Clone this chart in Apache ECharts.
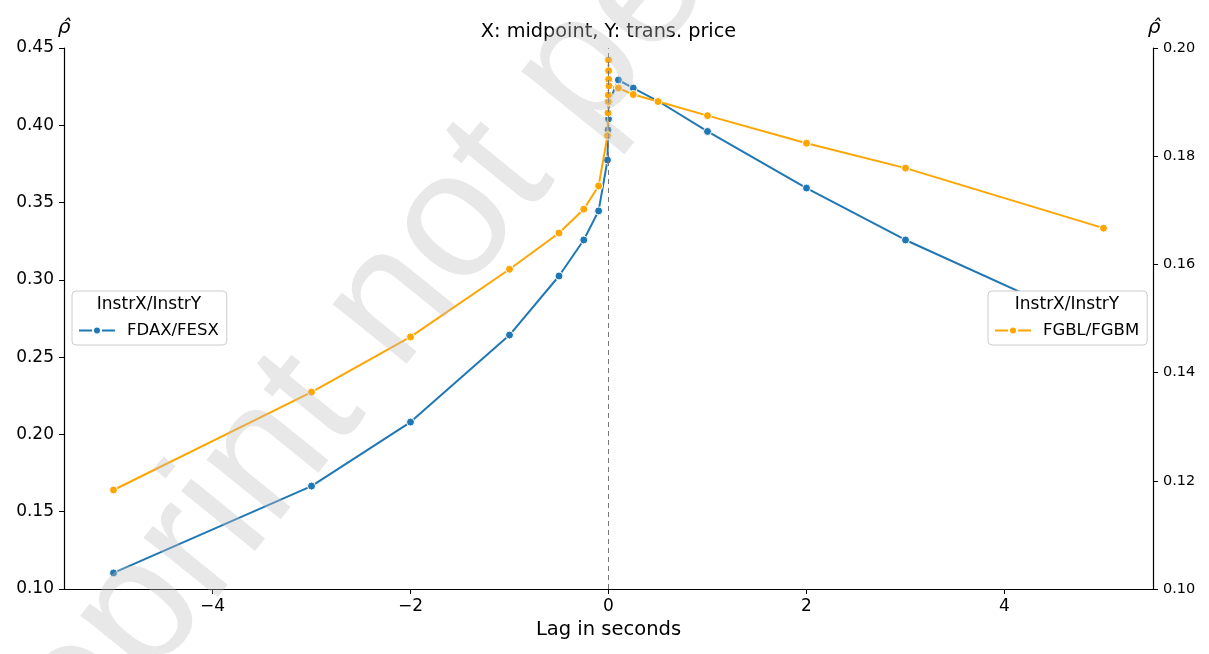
<!DOCTYPE html>
<html lang="en">
<head>
    <meta charset="UTF-8">
    <script src="https://cdn.jsdelivr.net/npm/echarts@6/dist/echarts.min.js"></script>
    <style>
        html, body {
            margin: 0;
            padding: 0;
            background: #fff;
        }
        #lagct {
            width: 1209px;
            height: 654px;
        }
    </style>
    <title>Lag correlation</title>
</head>
<body>
    <div id="lagct"></div>
</body>
</html>
<script type="text/javascript">
    // FDAX/FESX, left axis
    var lagsFdax = [-5, -3, -2, -1, -0.5, -0.25, -0.1, -0.01, -0.005, 0, 0.005, 0.1, 0.25, 0.5, 1, 2, 3, 5];
    var rhoFdax = [0.1104, 0.1666, 0.2080, 0.2643, 0.3025, 0.3258, 0.3446, 0.3775, 0.3970, 0.4041, 0.4150, 0.4293, 0.4241, 0.4157, 0.3960, 0.3594, 0.3258, 0.2676];

    // FGBL/FGBM, right axis
    var lagsFgbl = [-5, -3, -2, -1, -0.5, -0.25, -0.1, -0.01, -0.005, -0.002, -0.001, 0, 0.001, 0.002, 0.005, 0.1, 0.25, 0.5, 1, 2, 3, 5];
    var rhoFgbl = [0.1183, 0.1364, 0.1466, 0.1591, 0.1658, 0.1702, 0.1745, 0.1838, 0.1880, 0.1901, 0.1913, 0.1978, 0.1958, 0.1942, 0.1930, 0.1926, 0.1914, 0.1901, 0.1875, 0.1824, 0.1778, 0.1667];

    var xTicks = [-4, -2, 0, 2, 4];
    var seriesNames = ['FDAX/FESX', 'FGBL/FGBM'];
    var legendTitle = 'InstrX/InstrY';
    var chartTitle = 'X: midpoint, Y: trans. price';
    var xName = 'Lag in seconds';
    var watermark = 'Preprint not peer reviewed';

    function pairs(xs, ys) {
        var out = [];
        for (var i = 0; i < xs.length; i++) {
            out.push([xs[i], ys[i]]);
        }
        return out;
    }

    function minusFmt(v) {
        return String(v).replace('-', '\u2212');
    }

    function legendBox(name, left) {
        return {
            data: [name],
            left: left,
            top: 291,
            orient: 'vertical',
            padding: [31, 8, 6, 6],
            itemWidth: 36,
            itemHeight: 10,
            backgroundColor: '#fff',
            borderColor: '#ccc',
            borderWidth: 1,
            borderRadius: 4,
            textStyle: {fontSize: 16.5, fontFamily: 'DejaVu Sans', color: '#000', padding: [0, 0, 0, 7]}
        };
    }

    function lagEchart() {
        var chartDom = document.getElementById('lagct');
        var myChart = echarts.init(chartDom, null, {renderer: 'canvas'});
        var font = 'DejaVu Sans';
        var option;

        option = {
            animation: false,
            textStyle: {fontFamily: font, color: '#000'},
            grid: {left: 64, right: 56, top: 48, bottom: 65, containLabel: false},
            xAxis: {
                type: 'value',
                min: -5.5,
                max: 5.5,
                name: xName,
                nameLocation: 'middle',
                nameGap: 29,
                nameTextStyle: {fontSize: 19.5, fontFamily: font, color: '#000'},
                axisLine: {show: true, onZero: false, lineStyle: {color: '#000', width: 1.2}},
                axisTick: {show: true, length: 5, lineStyle: {color: '#000'}, customValues: xTicks},
                axisLabel: {fontSize: 17, color: '#000', margin: 9, customValues: xTicks, formatter: minusFmt},
                splitLine: {show: false}
            },
            yAxis: [
                {
                    type: 'value',
                    min: 0.1,
                    max: 0.45,
                    interval: 0.05,
                    position: 'left',
                    axisLine: {show: true, onZero: false, lineStyle: {color: '#000', width: 1.2}},
                    axisTick: {show: true, length: 5, lineStyle: {color: '#000'}},
                    axisLabel: {fontSize: 17, color: '#000', margin: 10, formatter: function (v) { return v.toFixed(2); }},
                    splitLine: {show: false}
                },
                {
                    type: 'value',
                    min: 0.1,
                    max: 0.2,
                    interval: 0.02,
                    position: 'right',
                    axisLine: {show: true, onZero: false, lineStyle: {color: '#000', width: 1.2}},
                    axisTick: {show: true, length: 5, lineStyle: {color: '#000'}},
                    axisLabel: {fontSize: 14.5, color: '#000', margin: 10, formatter: function (v) { return v.toFixed(2); }},
                    splitLine: {show: false}
                }
            ],
            legend: [legendBox(seriesNames[0], 72), legendBox(seriesNames[1], 988)],
            graphic: [
                {type: 'text', x: 608.5, y: 32, z: 20,
                    style: {text: chartTitle, font: '19.3px "DejaVu Sans"', fill: '#000', textAlign: 'center', textVerticalAlign: 'middle'}},
                {type: 'text', x: 64, y: 28, z: 20,
                    style: {text: '\u03C1\u0302', font: 'italic 20px "DejaVu Sans"', fill: '#000', textAlign: 'center', textVerticalAlign: 'middle'}},
                {type: 'text', x: 1154, y: 28, z: 20,
                    style: {text: '\u03C1\u0302', font: 'italic 20px "DejaVu Sans"', fill: '#000', textAlign: 'center', textVerticalAlign: 'middle'}},
                {type: 'text', x: 149, y: 305, z: 20,
                    style: {text: legendTitle, font: '17px "DejaVu Sans"', fill: '#000', textAlign: 'center', textVerticalAlign: 'middle'}},
                {type: 'text', x: 1067, y: 305, z: 20,
                    style: {text: legendTitle, font: '17px "DejaVu Sans"', fill: '#000', textAlign: 'center', textVerticalAlign: 'middle'}},
                {type: 'text', x: -68, y: 871, rotation: 51 * Math.PI / 180, z: 30, silent: true,
                    style: {text: watermark, font: '180px "Liberation Sans"', fill: 'rgba(190,190,190,0.35)', textAlign: 'left', textVerticalAlign: 'middle'}}
            ],
            series: [
                {
                    name: seriesNames[0],
                    type: 'line',
                    yAxisIndex: 0,
                    data: pairs(lagsFdax, rhoFdax),
                    color: '#1f77b4',
                    symbol: 'circle',
                    symbolSize: 8,
                    showAllSymbol: true,
                    lineStyle: {width: 2, color: '#1f77b4'},
                    itemStyle: {color: '#1f77b4', borderColor: '#fff', borderWidth: 1},
                    markLine: {
                        silent: true,
                        symbol: 'none',
                        label: {show: false},
                        lineStyle: {color: '#777', type: [5, 4], width: 1},
                        data: [{xAxis: 0}]
                    },
                    z: 3
                },
                {
                    name: seriesNames[1],
                    type: 'line',
                    yAxisIndex: 1,
                    data: pairs(lagsFgbl, rhoFgbl),
                    color: '#ffa500',
                    symbol: 'circle',
                    symbolSize: 8,
                    showAllSymbol: true,
                    lineStyle: {width: 2, color: '#ffa500'},
                    itemStyle: {color: '#ffa500', borderColor: '#fff', borderWidth: 1},
                    z: 4
                }
            ]
        };
        option && myChart.setOption(option);
    }

    lagEchart()
</script>
